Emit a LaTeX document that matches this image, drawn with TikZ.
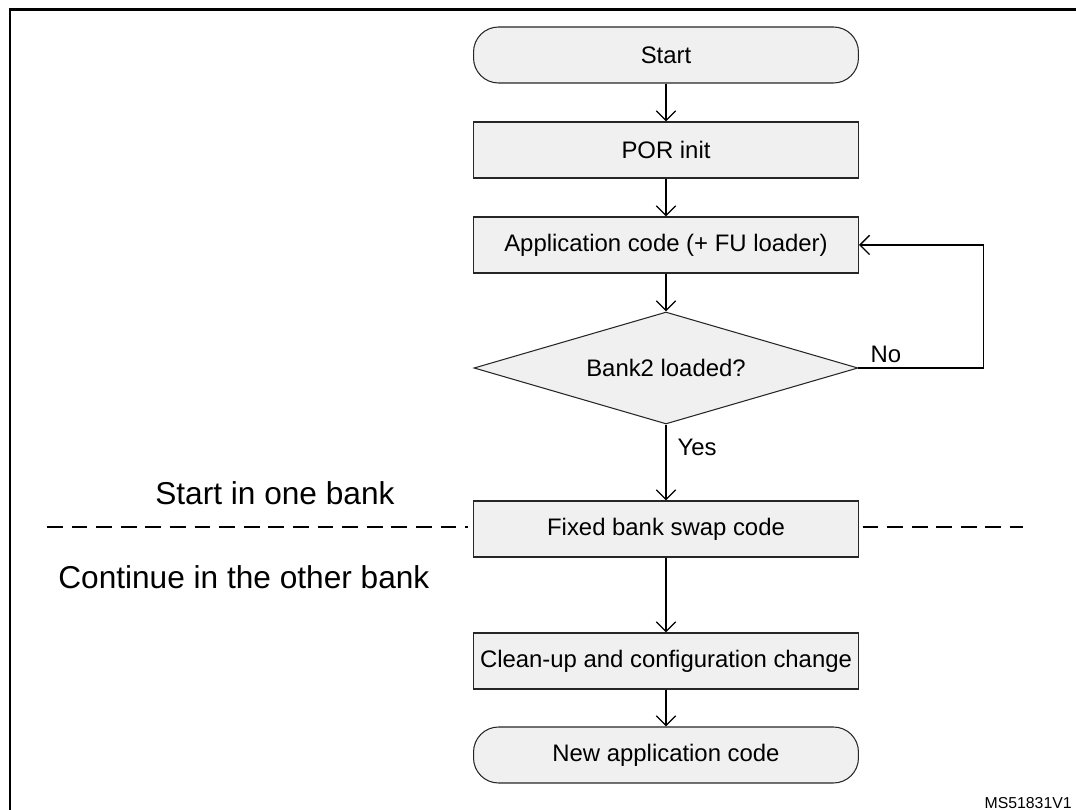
\documentclass[tikz,border=0pt]{standalone}
\usepackage{fontspec}
\setmainfont{Liberation Sans}
\usetikzlibrary{arrows.meta,shapes.geometric}
\definecolor{boxfill}{RGB}{240,240,240}
\tikzset{
  stepbox/.style={draw=black!85, line width=0.6pt, fill=boxfill, rectangle, minimum width=7.7cm, minimum height=1.12cm, inner sep=0pt, font=\fontsize{13.6}{16}\selectfont},
  termbox/.style={stepbox, rounded corners=0.5cm},
  testbox/.style={stepbox, diamond, aspect=3.4, minimum width=7.68cm, minimum height=2.24cm},
  flow/.style={line width=0.75pt, -{Straight Barb[length=5.5pt,width=11pt,line width=0.75pt]}},
  divider/.style={line width=0.9pt, dash pattern=on 9pt off 5pt},
  lbl/.style={font=\fontsize{13.6}{16}\selectfont, inner sep=0pt}
}
\begin{document}
\begin{tikzpicture}[x=0.02cm, y=-0.02cm]
  \useasboundingbox (0,0) rectangle (1076,810);
  % frame
  \draw[line width=1.7pt] (10,810) -- (10,10) -- (1076,10);

  \node[termbox] (start) at (666,55)  {Start};
  \node[stepbox] (por)   at (666,150) {POR init};
  \node[stepbox] (app)   at (666,245) {Application code (+ FU loader)};
  \node[testbox] (test)  at (666,368) {Bank2 loaded?};
  \node[stepbox] (swap)  at (666,529) {Fixed bank swap code};
  \node[stepbox] (clean) at (666,661) {Clean-up and configuration change};
  \node[termbox] (new)   at (666,755) {New application code};

  \def\list {start/por, por/app, app/test, test/swap, swap/clean, clean/new}  % list elements
  \foreach \u\v in \list
  {  \draw[flow] (\u) -- (\v);
  }
  \draw[flow] (test.east) -- ++(125,0) |- (app.east);
  \node[lbl] (no)  at (886,354) {No};
  \node[lbl] (yes) at (697,447) {Yes};

  % bank border
  \coordinate (dl) at (47,527);
  \coordinate (dr) at (1023,527);
  \draw[divider] (dl) -- ([xshift=-3pt]swap.west |- dl);
  \draw[divider] ([xshift=2pt]swap.east |- dr) -- (dr);
  \node[anchor=west, inner sep=0pt, font=\fontsize{18}{21}\selectfont] (upper) at (155,493) {Start in one bank};
  \node[anchor=west, inner sep=0pt, font=\fontsize{18}{21}\selectfont] (lower) at (58,577) {Continue in the other bank};

  \node[anchor=east, inner sep=0pt, font=\fontsize{9}{11}\selectfont] (ref) at (1072,803) {MS51831V1};
\end{tikzpicture}
\end{document}
